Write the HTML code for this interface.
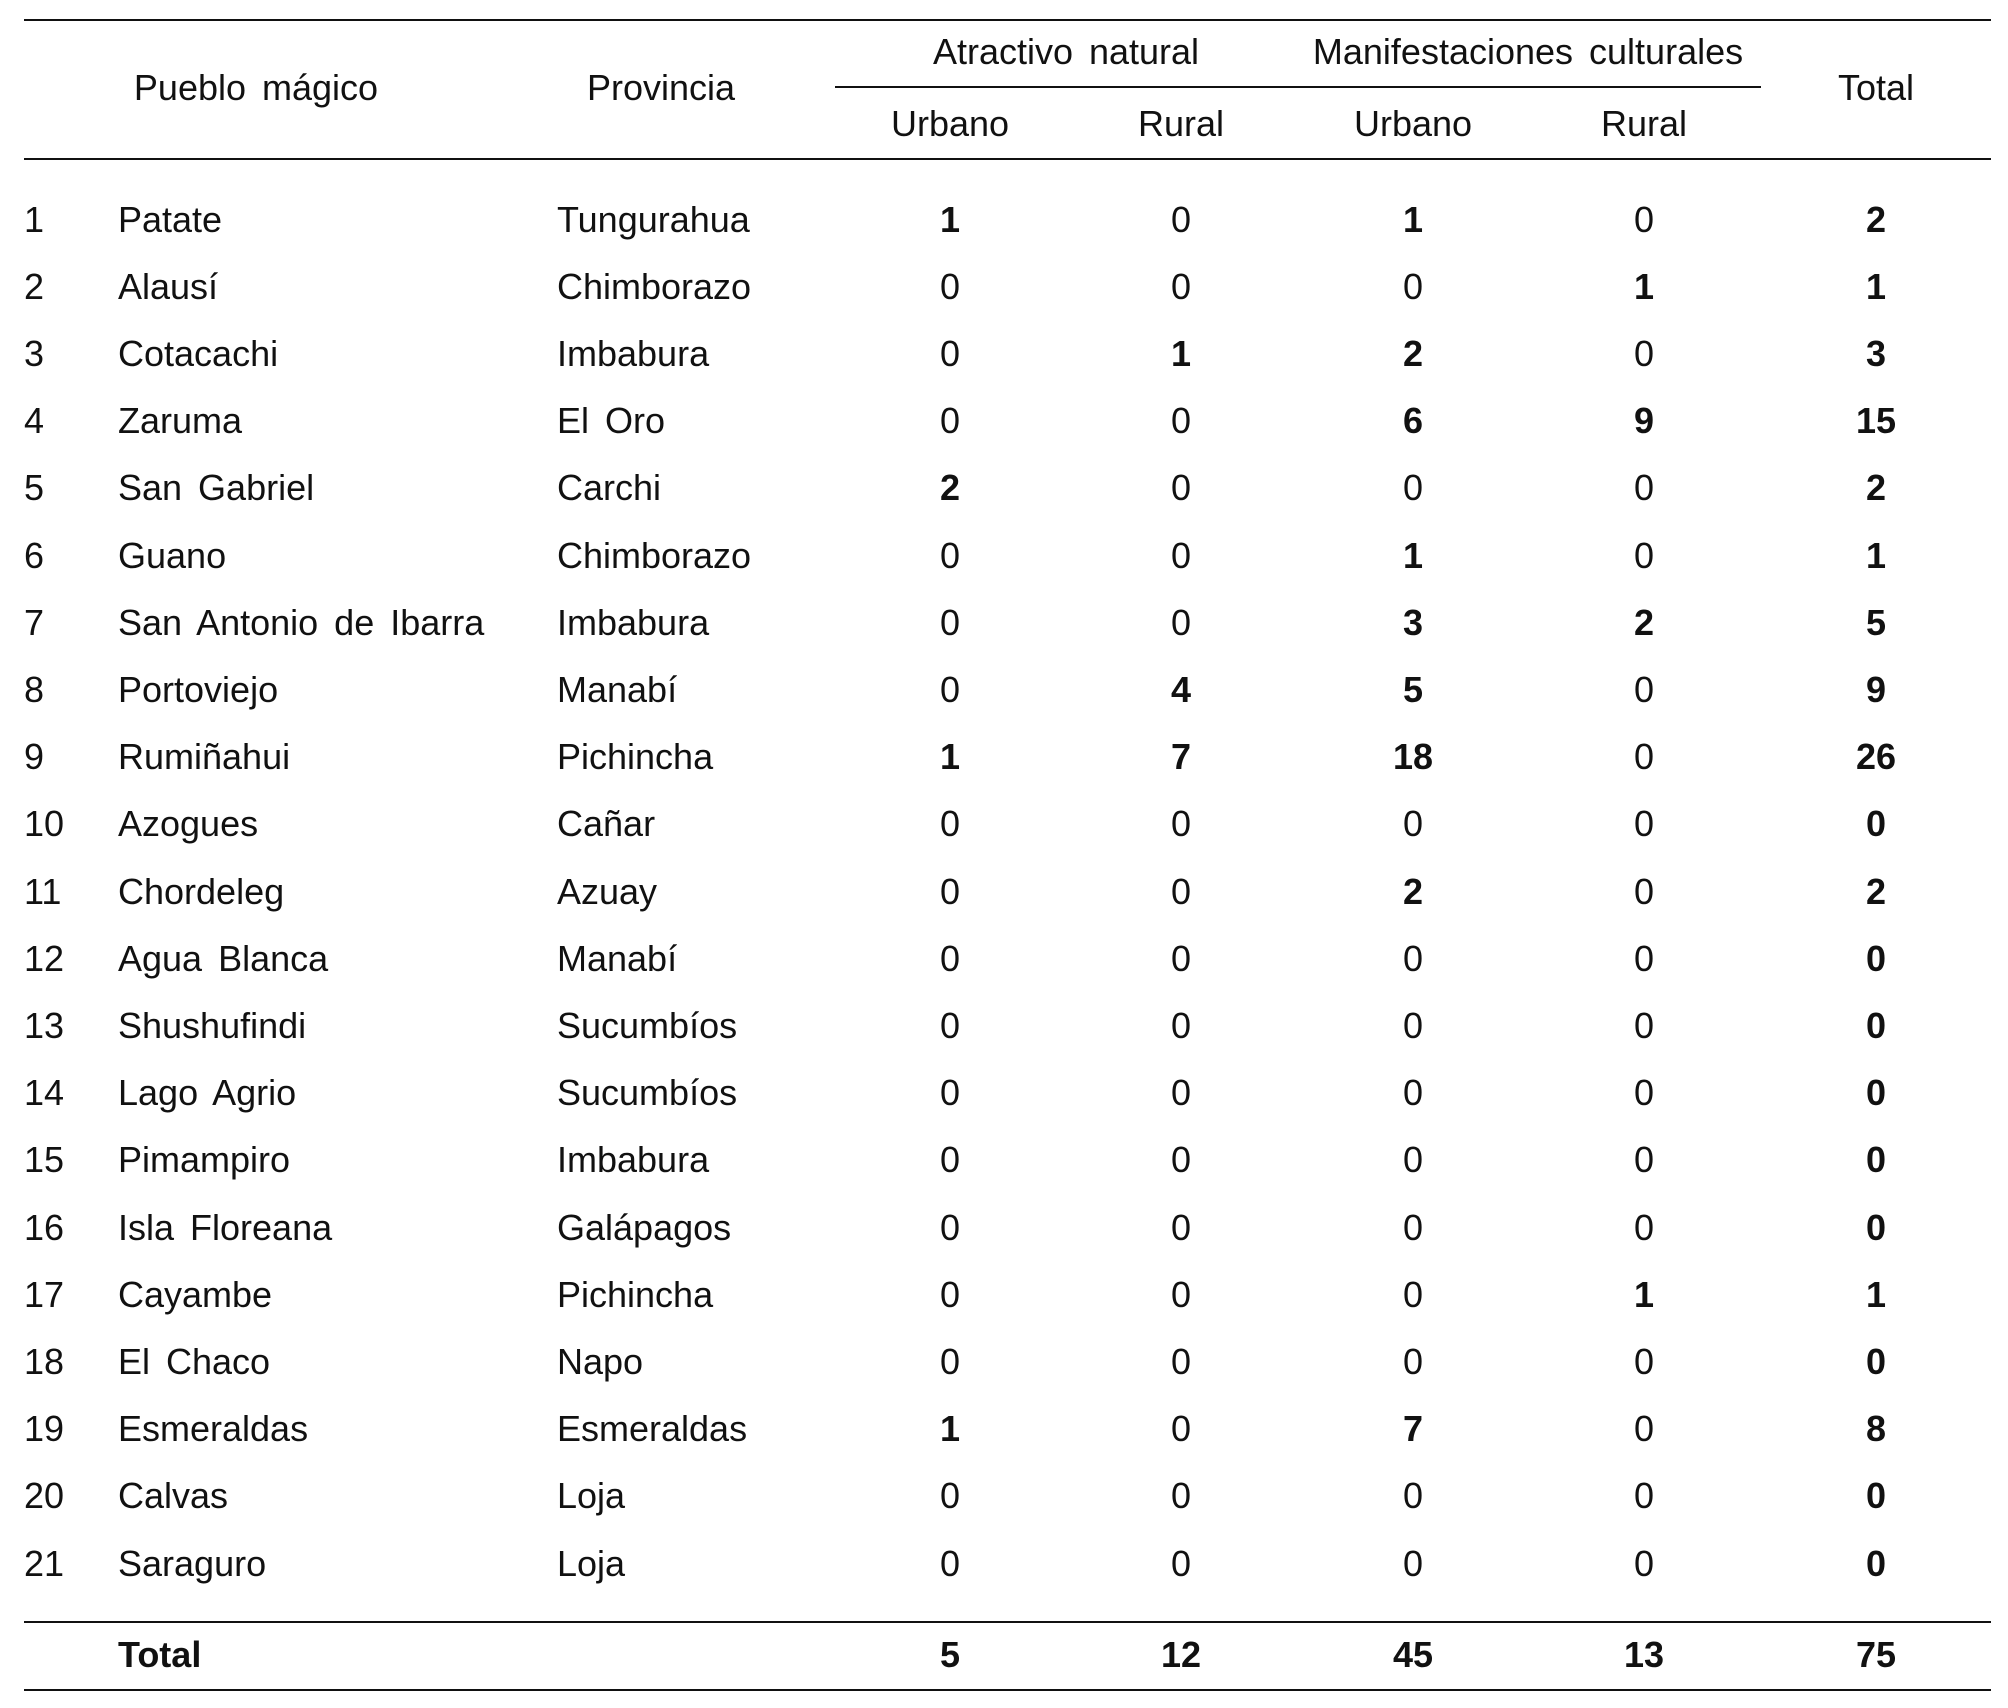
<!DOCTYPE html>
<html><head><meta charset="utf-8"><style>
body{margin:0;width:2008px;height:1708px;background:#fff;position:relative;overflow:hidden;font-family:"Liberation Sans",sans-serif;font-size:36px;color:#111;word-spacing:6px}
.t{position:absolute;white-space:nowrap;line-height:40px;transform:translateY(-50%)}
.c{transform:translate(-50%,-50%)}
.b{font-weight:bold}
.l{position:absolute;background:#111;height:2px}
</style></head><body>
<div class="l" style="left:24px;top:19px;width:1967px"></div>
<div class="l" style="left:835px;top:86px;width:926px"></div>
<div class="l" style="left:24px;top:158px;width:1967px"></div>
<div class="l" style="left:24px;top:1621px;width:1967px"></div>
<div class="l" style="left:24px;top:1689px;width:1967px"></div>
<div class="t c" style="left:256px;top:88px">Pueblo mágico</div>
<div class="t c" style="left:661px;top:88px">Provincia</div>
<div class="t c" style="left:1876px;top:88px">Total</div>
<div class="t c" style="left:1066px;top:52px">Atractivo natural</div>
<div class="t c" style="left:1528px;top:52px">Manifestaciones culturales</div>
<div class="t c" style="left:950px;top:124px">Urbano</div>
<div class="t c" style="left:1181px;top:124px">Rural</div>
<div class="t c" style="left:1413px;top:124px">Urbano</div>
<div class="t c" style="left:1644px;top:124px">Rural</div>
<div id="rows"></div>
<script>
var d=[["Patate","Tungurahua",1,0,1,0,2],["Alausí","Chimborazo",0,0,0,1,1],["Cotacachi","Imbabura",0,1,2,0,3],["Zaruma","El Oro",0,0,6,9,15],["San Gabriel","Carchi",2,0,0,0,2],["Guano","Chimborazo",0,0,1,0,1],["San Antonio de Ibarra","Imbabura",0,0,3,2,5],["Portoviejo","Manabí",0,4,5,0,9],["Rumiñahui","Pichincha",1,7,18,0,26],["Azogues","Cañar",0,0,0,0,0],["Chordeleg","Azuay",0,0,2,0,2],["Agua Blanca","Manabí",0,0,0,0,0],["Shushufindi","Sucumbíos",0,0,0,0,0],["Lago Agrio","Sucumbíos",0,0,0,0,0],["Pimampiro","Imbabura",0,0,0,0,0],["Isla Floreana","Galápagos",0,0,0,0,0],["Cayambe","Pichincha",0,0,0,1,1],["El Chaco","Napo",0,0,0,0,0],["Esmeraldas","Esmeraldas",1,0,7,0,8],["Calvas","Loja",0,0,0,0,0],["Saraguro","Loja",0,0,0,0,0]];
var xs=[950,1181,1413,1644,1876],h="";
d.forEach(function(r,i){var y=219.5+i*67.2;
h+='<div class="t" style="left:24px;top:'+y+'px">'+(i+1)+'</div><div class="t" style="left:118px;top:'+y+'px">'+r[0]+'</div><div class="t" style="left:557px;top:'+y+'px">'+r[1]+'</div>';
for(var k=0;k<5;k++){var v=r[k+2];h+='<div class="t c'+((v>0||k==4)?' b':'')+'" style="left:'+xs[k]+'px;top:'+y+'px">'+v+'</div>';}});
var tot=[5,12,45,13,75];
h+='<div class="t b" style="left:118px;top:1655px">Total</div>';
for(var k=0;k<5;k++)h+='<div class="t c b" style="left:'+xs[k]+'px;top:1655px">'+tot[k]+'</div>';
document.getElementById("rows").innerHTML=h;
</script>
</body></html>
